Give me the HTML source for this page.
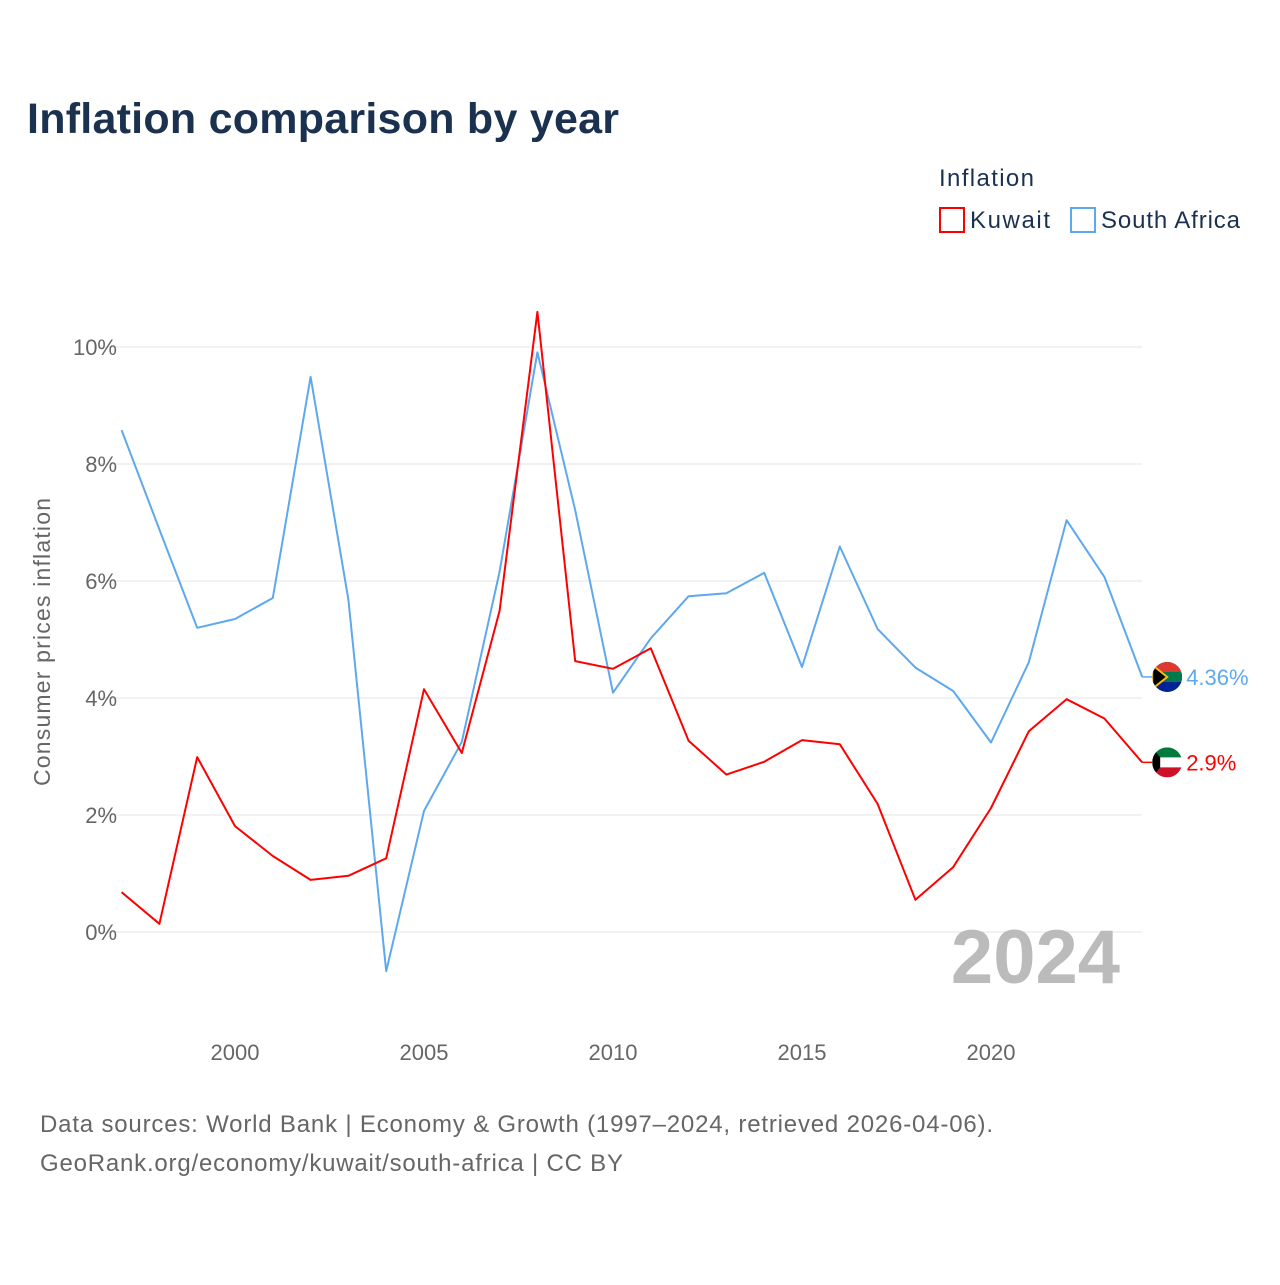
<!DOCTYPE html>
<html><head><meta charset="utf-8">
<style>
body{margin:0;background:#fff;font-family:"Liberation Sans",sans-serif;}
svg text{font-family:"Liberation Sans",sans-serif;}
</style></head>
<body>
<svg width="1280" height="1280" viewBox="0 0 1280 1280" xmlns="http://www.w3.org/2000/svg">
<defs>
<clipPath id="c1"><circle cx="1167" cy="677" r="15"/></clipPath>
<clipPath id="c2"><circle cx="1167" cy="762" r="15"/></clipPath>
</defs>
<text x="27" y="133" font-size="43" font-weight="bold" fill="#1b3150" textLength="592">Inflation comparison by year</text>
<text x="939" y="186" font-size="24" fill="#1b3150" textLength="95">Inflation</text>
<g>
<rect x="940" y="208" width="24" height="24" fill="none" stroke="#f00" stroke-width="2"/>
<text x="970" y="228" font-size="24" fill="#1b3150" textLength="80">Kuwait</text></g>
<g>
<rect x="1071" y="208" width="24" height="24" fill="none" stroke="#5ea8ee" stroke-width="2"/>
<text x="1101" y="228" font-size="24" fill="#1b3150" textLength="139">South Africa</text></g>
<g id="grid"></g>
<g id="yt"></g>
<g id="xt"></g>
<text transform="translate(50,642) rotate(-90)" text-anchor="middle" font-size="23" fill="#666" textLength="288">Consumer prices inflation</text>
<text x="1120" y="983" text-anchor="end" font-size="76" font-weight="bold" fill="#bbb">2024</text>
<g id="series"></g>
<text x="40" y="1132" font-size="24" fill="#666" textLength="953">Data sources: World Bank | Economy &amp; Growth (1997–2024, retrieved 2026-04-06).</text>
<text x="40" y="1171" font-size="24" fill="#666" textLength="583">GeoRank.org/economy/kuwait/south-africa | CC BY</text>
</svg>
<script>
const years=[1997,1998,1999,2000,2001,2002,2003,2004,2005,2006,2007,2008,2009,2010,2011,2012,2013,2014,2015,2016,2017,2018,2019,2020,2021,2022,2023,2024];
const southAfrica=[8.58,6.88,5.2,5.35,5.71,9.49,5.68,-0.67,2.07,3.25,6.16,9.91,7.21,4.09,5.02,5.74,5.79,6.14,4.53,6.59,5.18,4.52,4.12,3.24,4.61,7.04,6.07,4.36];
const kuwait=[0.68,0.14,2.99,1.81,1.3,0.89,0.96,1.26,4.15,3.06,5.49,10.6,4.63,4.5,4.85,3.27,2.69,2.91,3.28,3.21,2.19,0.55,1.11,2.12,3.43,3.98,3.65,2.9];
const yTicks=[0,2,4,6,8,10];
const xTicks=[2000,2005,2010,2015,2020];
const NS="http://www.w3.org/2000/svg";
const x=v=>235+(v-2000)*37.8;
const y=v=>932-v*58.5;
function mk(t,a,p){const e=document.createElementNS(NS,t);for(const k in a)e.setAttribute(k,a[k]);p.appendChild(e);return e;}
const grid=document.getElementById('grid'),yt=document.getElementById('yt'),xt=document.getElementById('xt'),ser=document.getElementById('series');
yTicks.forEach(v=>{
const l=mk('line',{x1:98,x2:1142,y1:y(v),y2:y(v),stroke:'#e6e6e6','stroke-width':1},grid);


const t=mk('text',{x:117,y:y(v)+8,'text-anchor':'end','font-size':22,fill:'#666'},yt);
t.textContent=v+'%';


});
xTicks.forEach(v=>{
const t=mk('text',{x:x(v),y:1060,'text-anchor':'middle','font-size':22,fill:'#666'},xt);
t.textContent=v;


});
function draw(vals,color,name,label,flag,clip){
const d=vals.map((v,i)=>(i?'L':'M')+x(years[i]).toFixed(1)+','+y(v).toFixed(1)).join(' ');
const p=mk('path',{d:d,fill:'none',stroke:color,'stroke-width':2,'stroke-linejoin':'round'},ser);


const last=vals[vals.length-1],ly=y(last),lx=x(years[years.length-1]);
mk('line',{x1:lx,x2:lx+10,y1:ly,y2:ly,stroke:color,'stroke-width':1.5},ser);
const cid='clip-'+name;
const cp=mk('clipPath',{id:cid},ser);
mk('circle',{cx:lx+25,cy:ly,r:15},cp);
const g=mk('g',{'clip-path':'url(#'+cid+')'},ser);


flag(g,lx+25,ly);
const t=mk('text',{x:lx+44,y:ly+8,'font-size':22,fill:color},ser);
t.textContent=label;


}
function saFlag(g,cx,cy){
mk('rect',{x:cx-15,y:cy-15,width:30,height:30,fill:'#007a4d'},g);
mk('path',{d:`M${cx-15},${cy-15}h30v10h-30z`,fill:'#de3831'},g);
mk('path',{d:`M${cx-15},${cy+5}h30v10h-30z`,fill:'#002395'},g);
mk('path',{d:`M${cx-15},${cy-12}L${cx},${cy}L${cx-15},${cy+12}z`,fill:'#000',stroke:'#ffb612','stroke-width':2},g);
}
function kwFlag(g,cx,cy){
mk('rect',{x:cx-15,y:cy-15,width:30,height:30,fill:'#fff'},g);
mk('path',{d:`M${cx-15},${cy-15}h30v10h-30z`,fill:'#007a3d'},g);
mk('path',{d:`M${cx-15},${cy+5}h30v10h-30z`,fill:'#ce1126'},g);
mk('path',{d:`M${cx-15},${cy-15}L${cx-7},${cy-5}v10L${cx-15},${cy+15}z`,fill:'#000'},g);
}
draw(southAfrica,'#5ea8ee','south-africa','4.36%',saFlag);
draw(kuwait,'#f00','kuwait','2.9%',kwFlag);
</script>
</body></html>
